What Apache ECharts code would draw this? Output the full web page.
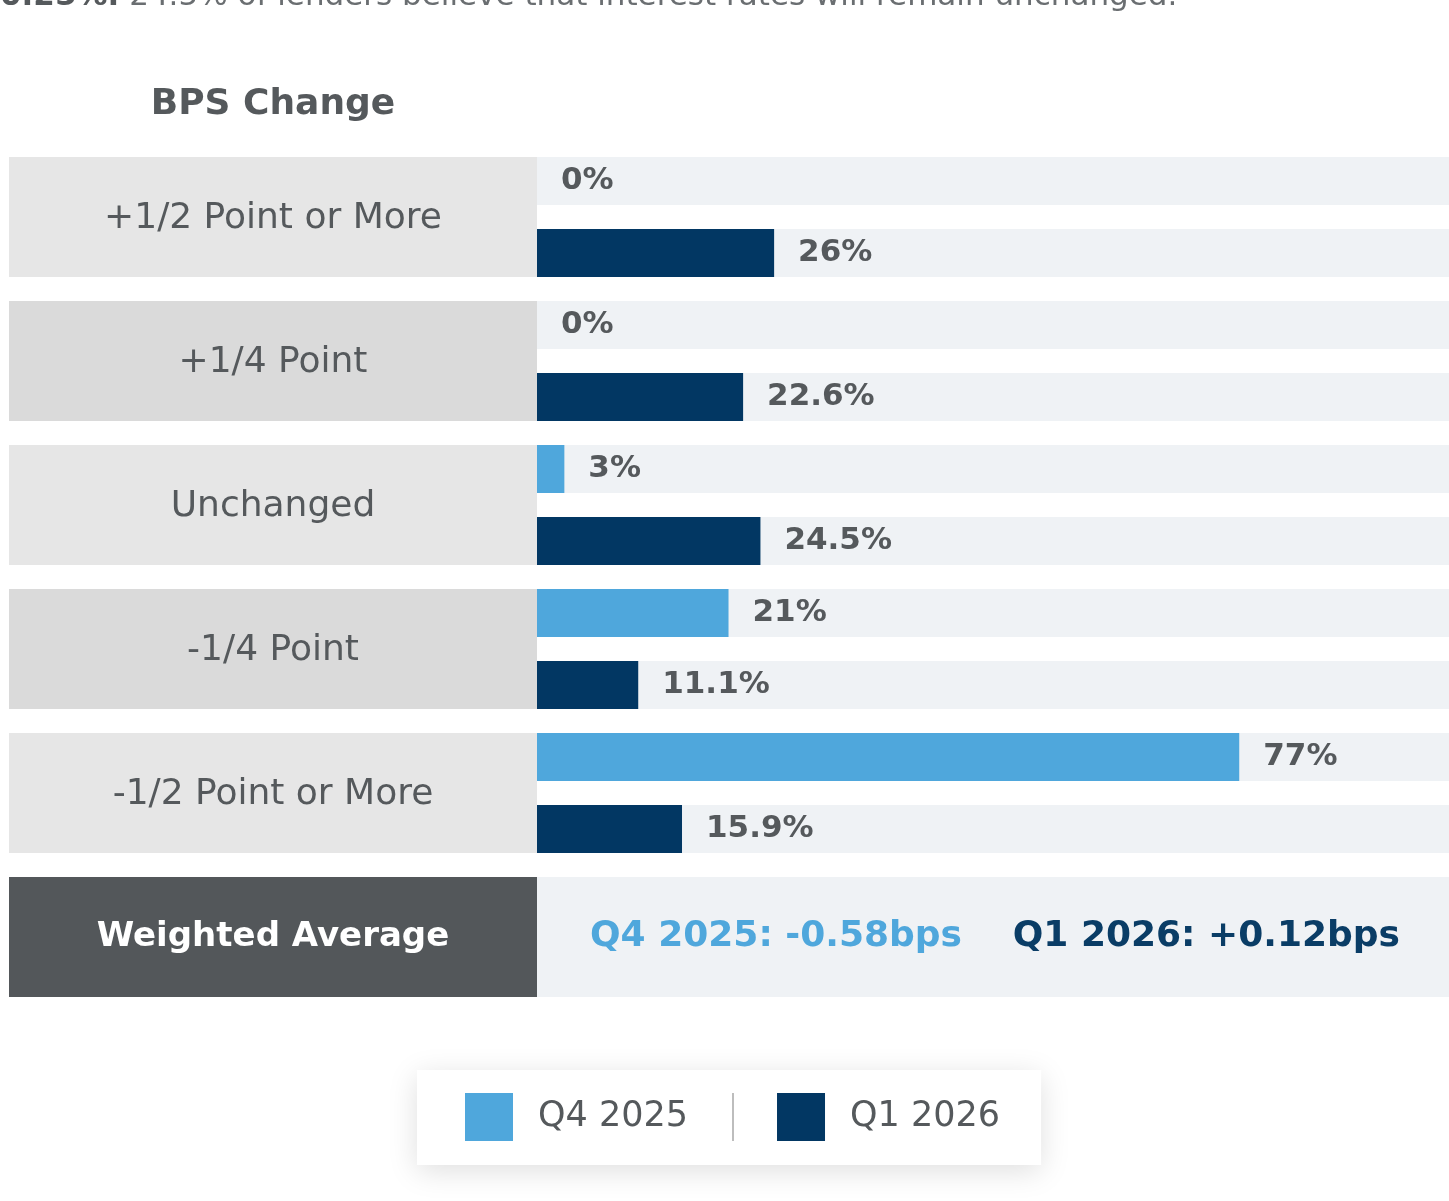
<!DOCTYPE html>
<html>
<head>
<meta charset="utf-8">
<script src="https://cdn.jsdelivr.net/npm/echarts@6/dist/echarts.min.js"></script>
<style>
  html, body { margin: 0; padding: 0; background: #fff; }
  #main { width: 1449px; height: 1201px; }
</style>
</head>
<body>
<div id="main"></div>
<script>
const categories = ['+1/2 Point or More', '+1/4 Point', 'Unchanged', '-1/4 Point', '-1/2 Point or More'];
const q4_2025 = [0, 0, 3, 21, 77];
const q1_2026 = [26, 22.6, 24.5, 11.1, 15.9];
const seriesNames = ['Q4 2025', 'Q1 2026'];
const weightedAvg = ['Q4 2025: -0.58bps', 'Q1 2026: +0.12bps'];
const headerText = 'BPS Change';
const introBold = '0.25%.';
const introRest = ' 24.5% of lenders believe that interest rates will remain unchanged.';

const FONT = '"DejaVu Sans", "Open Sans", sans-serif';
const GRAY_TEXT = '#55595c';
const LIGHT_BLUE = '#4fa7dc';
const NAVY = '#023763';
const TRACK = '#eff2f5';
const rowColors = ['#e6e6e6', '#dadada'];

const chart = echarts.init(document.getElementById('main'), null, { renderer: 'canvas' });

const valueLabel = {
  show: true,
  position: 'right',
  distance: 24,
  formatter: p => p.value + '%',
  fontFamily: FONT,
  fontWeight: 'bold',
  fontSize: 31,
  color: GRAY_TEXT
};

chart.setOption({
  animation: false,
  grid: [
    { left: 537, width: 913, top: 145, height: 720 },
    { left: 9, width: 528, top: 145, height: 720 }
  ],
  xAxis: [
    { gridIndex: 0, type: 'value', min: 0, max: 100, show: false },
    { gridIndex: 1, type: 'value', min: 0, max: 1, show: false }
  ],
  yAxis: [
    { gridIndex: 0, type: 'category', data: categories, inverse: true, show: false },
    { gridIndex: 1, type: 'category', data: categories, inverse: true, show: false }
  ],
  legend: {
    left: 417,
    top: 1070,
    data: seriesNames,
    icon: 'rect',
    itemWidth: 48,
    itemHeight: 48,
    itemGap: 89,
    padding: [23, 41, 24, 48],
    backgroundColor: '#fff',
    shadowBlur: 28,
    shadowColor: 'rgba(0,0,0,0.13)',
    shadowOffsetY: 6,
    textStyle: {
      fontFamily: FONT,
      fontSize: 35,
      color: GRAY_TEXT,
      padding: [0, 0, 0, 20]
    }
  },
  series: [
    {
      name: seriesNames[0],
      type: 'bar',
      xAxisIndex: 0,
      yAxisIndex: 0,
      data: q4_2025,
      barWidth: 48,
      barGap: '50%',
      itemStyle: { color: LIGHT_BLUE },
      showBackground: true,
      backgroundStyle: { color: TRACK },
      label: valueLabel
    },
    {
      name: seriesNames[1],
      type: 'bar',
      xAxisIndex: 0,
      yAxisIndex: 0,
      data: q1_2026,
      barWidth: 48,
      barGap: '50%',
      itemStyle: { color: NAVY },
      showBackground: true,
      backgroundStyle: { color: TRACK },
      label: valueLabel
    },
    {
      name: 'rowLabels',
      type: 'bar',
      xAxisIndex: 1,
      yAxisIndex: 1,
      barWidth: 120,
      silent: true,
      data: categories.map((c, i) => ({
        value: 1,
        itemStyle: { color: rowColors[i % 2] }
      })),
      label: {
        show: true,
        position: 'inside',
        offset: [0, 2],
        formatter: p => p.name,
        fontFamily: FONT,
        fontSize: 36,
        color: GRAY_TEXT
      }
    }
  ],
  graphic: [
    {
      type: 'text',
      x: 0,
      y: -19,
      style: {
        text: '{b|' + introBold + '}' + introRest,
        font: '31px ' + FONT,
        fill: '#6a6e71',
        rich: { b: { fontWeight: 'bold', fontFamily: FONT, fontSize: 31, fill: '#55595c' } }
      }
    },
    {
      type: 'text',
      x: 273,
      y: 105,
      style: {
        text: headerText,
        font: 'bold 36px ' + FONT,
        fill: GRAY_TEXT,
        textAlign: 'center',
        textVerticalAlign: 'middle'
      }
    },
    {
      type: 'rect',
      shape: { x: 9, y: 877, width: 528, height: 120 },
      style: { fill: '#53575a' }
    },
    {
      type: 'rect',
      shape: { x: 537, y: 877, width: 913, height: 120 },
      style: { fill: TRACK }
    },
    {
      type: 'text',
      x: 273,
      y: 937,
      style: {
        text: 'Weighted Average',
        font: 'bold 34px ' + FONT,
        fill: '#fff',
        textAlign: 'center',
        textVerticalAlign: 'middle'
      }
    },
    {
      type: 'text',
      x: 590,
      y: 937,
      style: {
        text: weightedAvg[0],
        font: 'bold 36px ' + FONT,
        fill: LIGHT_BLUE,
        textVerticalAlign: 'middle'
      }
    },
    {
      type: 'text',
      x: 1400,
      y: 937,
      style: {
        text: weightedAvg[1],
        font: 'bold 36px ' + FONT,
        fill: '#0a3d66',
        textAlign: 'right',
        textVerticalAlign: 'middle'
      }
    },
    {
      type: 'line',
      shape: { x1: 733, y1: 1093, x2: 733, y2: 1141 },
      style: { stroke: '#bdbdbd', lineWidth: 2 },
      z: 100
    }
  ]
});
</script>
</body>
</html>
